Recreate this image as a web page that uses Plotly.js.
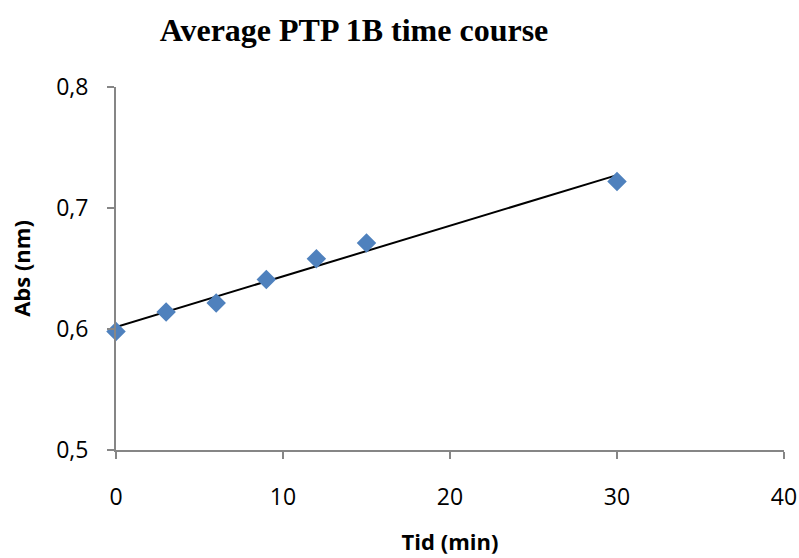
<!DOCTYPE html>
<html>
<head>
<meta charset="utf-8">
<script src="https://cdn.plot.ly/plotly-3.0.1.min.js"></script>
<style>html,body{margin:0;padding:0;background:#fff;}#chart{width:799px;height:558px;}</style>
</head>
<body>
<div id="chart"></div>
<script>
const timeMin = [0, 3, 6, 9, 12, 15, 30];
const absValues = [0.598, 0.614, 0.6215, 0.641, 0.658, 0.671, 0.722];
const xTicks = [0, 10, 20, 30, 40];
const yTicks = [0.5, 0.6, 0.7, 0.8];
const yTickLabels = ['0,5', '0,6', '0,7', '0,8'];

// least-squares linear trendline from the data
const n = timeMin.length;
const mx = timeMin.reduce((a,b)=>a+b,0)/n;
const my = absValues.reduce((a,b)=>a+b,0)/n;
let sxy = 0, sxx = 0;
for (let i=0;i<n;i++){ sxy += (timeMin[i]-mx)*(absValues[i]-my); sxx += (timeMin[i]-mx)**2; }
const slope = sxy/sxx, intercept = my - slope*mx;
const trendX = [Math.min(...timeMin), Math.max(...timeMin)];
const trendY = trendX.map(x => intercept + slope*x);

const traces = [
  {x: trendX, y: trendY, mode: 'lines', line: {color: '#000000', width: 2}, hoverinfo: 'skip', showlegend: false, cliponaxis: false},
  {x: timeMin, y: absValues, mode: 'markers', marker: {symbol: 'diamond', size: 15, color: '#4F81BD'}, showlegend: false, cliponaxis: false}
];

const tickFont = {family: 'Open Sans, Noto Sans, sans-serif', size: 23, color: '#000'};
const axTitleFont = {family: 'Open Sans, Noto Sans, sans-serif', size: 22, color: '#000'};

const layout = {
  width: 799, height: 558,
  margin: {l: 116, r: 15, t: 87, b: 108},
  paper_bgcolor: '#ffffff', plot_bgcolor: '#ffffff',
  separators: ', ',
  title: {text: '<b>Average PTP 1B time course</b>', x: 354/799, xanchor: 'center', y: 1 - 30/558, yanchor: 'middle',
          font: {family: 'Liberation Serif, Times New Roman, serif', size: 32, color: '#000'}},
  xaxis: {range: [0, 40], tickvals: xTicks, ticktext: xTicks.map(String), showgrid: false, zeroline: false,
          showline: true, linecolor: '#868686', linewidth: 2, ticks: 'outside', ticklen: 7, tickwidth: 2, tickcolor: '#868686',
          tickfont: tickFont, ticklabelstandoff: 18,
          title: {text: '<b>Tid (min)</b>', standoff: 24, font: axTitleFont}},
  yaxis: {range: [0.5, 0.8], tickvals: yTicks, ticktext: yTickLabels, showgrid: false, zeroline: false,
          showline: true, linecolor: '#868686', linewidth: 2, ticks: 'outside', ticklen: 7, tickwidth: 2, tickcolor: '#868686',
          tickfont: tickFont, ticklabelstandoff: 14,
          title: {text: '<b>Abs (nm)</b>', standoff: 19, font: axTitleFont}}
};

Plotly.newPlot('chart', traces, layout, {displayModeBar: false, staticPlot: true});
</script>
</body>
</html>
